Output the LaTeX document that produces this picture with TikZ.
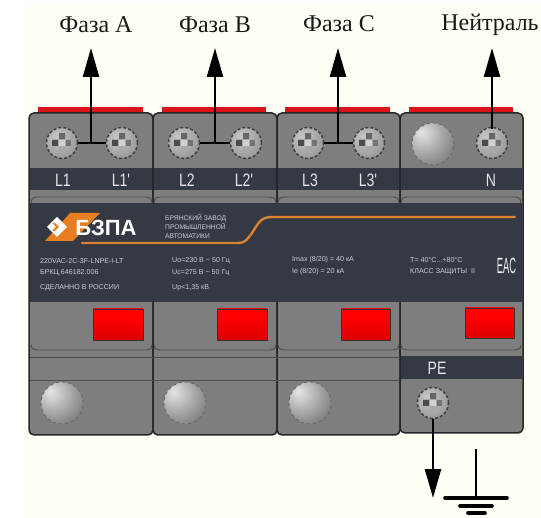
\documentclass[tikz,border=0pt]{standalone}
\usepackage{fontspec}
\setmainfont{Liberation Serif}
\newfontfamily\lsans{Liberation Sans}
\usetikzlibrary{arrows.meta,calc}
\definecolor{ivory}{HTML}{FFFFF5}
\definecolor{bodygrey}{HTML}{7E7E7E}
\definecolor{panel}{HTML}{353944}
\definecolor{edge}{HTML}{26262A}
\definecolor{orangeline}{HTML}{D9822F}
\definecolor{logoorange}{HTML}{E87E22}
\definecolor{capred}{HTML}{D81418}
\definecolor{small}{HTML}{CDCFD3}
\pgfdeclareradialshading{kball}{\pgfpoint{-14bp}{14bp}}{%
 color(0bp)=(white!90!black); color(20bp)=(white!68!black); color(45bp)=(white!42!black); color(68bp)=(white!28!black); color(100bp)=(white!28!black)}
\pgfdeclareradialshading{kscrew}{\pgfpoint{-10bp}{10bp}}{%
 color(0bp)=(white!78!black); color(30bp)=(white!62!black); color(60bp)=(white!40!black); color(100bp)=(white!30!black)}
\pgfdeclareverticalshading{kled}{100bp}{%
 color(0bp)=(black!60!red); color(6bp)=(black!50!red); color(22bp)=(red!85!black); color(60bp)=(red); color(100bp)=(red)}
\tikzset{
 x=1pt,y=-1pt,
 module/.style={draw=edge,line width=1.5pt,fill=bodygrey,rounded corners=5pt},
 strip/.style={fill=panel},
 seam/.style={draw=black!70,line width=0.9pt},
 capbar/.style={fill=capred},
 led/.style={draw=black!80,line width=0.8pt,shading=kled},
 ballnode/.style={circle,minimum size=42pt,inner sep=0pt,shading=kball,draw=black!60,dashed,line width=.8pt},
 screwnode/.style={circle,minimum size=31pt,inner sep=0pt,shading=kscrew,draw=black!75,densely dashed,line width=1.5pt},
 wire/.style={draw=black,line width=2.4pt},
 arrowwire/.style={draw=black,line width=2.4pt,-{Triangle[length=29pt,width=16pt]},shorten >=0pt},
 ground/.style={draw=black,line width=3.6pt,line cap=round},
 head/.style={font=\fontsize{24}{26}\selectfont,text=black!90,inner sep=0pt},
 term/.style={font=\lsans\fontsize{18}{18}\selectfont,text=white!90!black,inner sep=0pt},
 tiny/.style={font=\lsans\fontsize{7.1}{8}\selectfont,text=small,inner sep=0pt,anchor=west},
 tinybr/.style={font=\lsans\fontsize{6.7}{8}\selectfont,text=small,inner sep=0pt,anchor=west},
}
\newcommand{\kcross}[1]{%
 \fill[white!66!black] ($(#1)+(-3.5,-10)$) rectangle ($(#1)+(3.5,10)$);
 \fill[white!66!black] ($(#1)+(-10,-3.5)$) rectangle ($(#1)+(10,3.5)$);
 \fill[black!70] ($(#1)+(-10,-3)$) rectangle ($(#1)+(-4,3)$);
 \fill[black!60] ($(#1)+(-3,-10)$) rectangle ($(#1)+(3,-4)$);
 \fill[white!82!black] ($(#1)+(-3,-3)$) rectangle ($(#1)+(3,3)$);
 \fill[white!45!black] ($(#1)+(4,-3)$) rectangle ($(#1)+(9,3)$);
}
\newcommand{\tallterm}[1]{\scalebox{0.78}[1]{#1}}
\begin{document}
\begin{tikzpicture}
\useasboundingbox (0,0) rectangle (541,518);
\fill[white] (0,0) rectangle (541,518);
\fill[ivory] (23,5) rectangle (541,518);

% red caps
\foreach \a/\b in {38/143,162/266,285/390,409/513}
  \fill[capbar] (\a,107) rectangle (\b,114);

% modules
\draw[module] (29,113) rectangle (153,435);
\draw[module] (153,113) rectangle (277,435);
\draw[module] (277,113) rectangle (400,435);
\draw[module] (400,113) rectangle (523,433);

% terminal strip
\fill[strip] (30,168) rectangle (522,190);
% upper seams
\foreach \a/\b in {30/153,153/277,277/400,400/522}
  \draw[seam] (\a+1,203) .. controls (\a+2,198) .. (\a+7,197) -- (\b-7,197) .. controls (\b-2,198) .. (\b-1,203);
% front panel
\fill[panel] (30,203) rectangle (522,302);
% module divisions on strip
\foreach \a in {153,277,400} \draw[edge,line width=1.2pt] (\a,168) -- (\a,190);

% lower seams
\foreach \a/\b in {30/153,153/277,277/400,400/522}
  \draw[seam] (\a+1,345) .. controls (\a+2,349) .. (\a+7,350) -- (\b-7,350) .. controls (\b-2,349) .. (\b-1,345);
\draw[seam] (30,357) -- (400,357);
\draw[seam] (30,380) -- (400,380);
\fill[strip] (401,356) rectangle (522,379);

% indicators
\draw[led] (93,309) rectangle (143,340);
\draw[led] (217,309) rectangle (267,340);
\draw[led] (341,309) rectangle (390,340);
\draw[led] (465,308) rectangle (514,338);

% balls
\node[ballnode] (b1) at (62,403) {};
\node[ballnode] (b2) at (185,403) {};
\node[ballnode] (b3) at (310,403) {};
\node[ballnode] (b4) at (433,144) {};

% screws
\node[screwnode] (s1) at (62,143) {};
\node[screwnode] (s1p) at (122,143) {};
\node[screwnode] (s2) at (184,143) {};
\node[screwnode] (s2p) at (246,143) {};
\node[screwnode] (s3) at (308,143) {};
\node[screwnode] (s3p) at (369,143) {};
\node[screwnode] (sn) at (492,143) {};
\node[screwnode] (spe) at (433,403) {};

% wires and arrows
\coordinate (ja) at (91,143);
\coordinate (jb) at (215,143);
\coordinate (jc) at (338,143);
\coordinate (jn) at (492,129);
\coordinate (ta) at (91,48);
\coordinate (tb) at (215,48);
\coordinate (tc) at (338,48);
\coordinate (tn) at (492,48);
\coordinate (tpe) at (433,498);
\draw[wire] (s1) -- (s1p);
\draw[wire] (s2) -- (s2p);
\draw[wire] (s3) -- (s3p);
\draw[arrowwire] (ja) -- (ta);
\draw[arrowwire] (jb) -- (tb);
\draw[arrowwire] (jc) -- (tc);
\draw[arrowwire] (jn) -- (tn);
\draw[arrowwire] (spe) -- (tpe);
\foreach \n in {s1,s1p,s2,s2p,s3,s3p,sn,spe} \kcross{\n};

% ground symbol
\coordinate (g0) at (476,449);
\coordinate (g1) at (476,498);
\draw[draw=black,line width=2.8pt] (g0) -- (g1);
\draw[ground] (445,498) -- (507,498);
\draw[ground] (460,506) -- (492,506);
\draw[ground] (468,513) -- (485,513);

% headings
\node[head] (ha) at (96,25) {Фаза A};
\node[head] (hb) at (215,25) {Фаза B};
\node[head] (hc) at (339,24) {Фаза C};
\node[head] (hn) at (490,25) {Нейтраль};

% terminal labels
\node[term] (l1) at (63,180) {\tallterm{L1}};
\node[term] (l1p) at (121,180) {\tallterm{L1'}};
\node[term] (l2) at (187,180) {\tallterm{L2}};
\node[term] (l2p) at (244,180) {\tallterm{L2'}};
\node[term] (l3) at (310,180) {\tallterm{L3}};
\node[term] (l3p) at (368,180) {\tallterm{L3'}};
\node[term] (ln) at (491,180) {\tallterm{N}};
\node[term] (lpe) at (437,368) {\tallterm{PE}};

% logo
\fill[logoorange] (70,213) -- (100,213) -- (73,241) -- (45,241) -- cycle;
\fill[white] (57,217) -- (67,227) -- (57,237) -- (47,227) -- cycle;
\fill[logoorange] (55,223) -- (59,227) -- (55,231) -- (52,231) -- (56,227) -- (52,223) -- cycle;
\node[font=\lsans\bfseries\fontsize{22}{22}\selectfont,text=white,inner sep=0pt] (logo) at (106,228) {БЗПА};
\draw[orangeline,line width=2.4pt,line cap=round,line join=round] (82,243) -- (238,243) .. controls (246,243) and (248,238) .. (252,233) .. controls (258,224) and (260,217) .. (272,217) -- (515,217);

\node[tinybr] (c1) at (165,218) {БРЯНСКИЙ ЗАВОД};
\node[tinybr] (c2) at (165,227) {ПРОМЫШЛЕННОЙ};
\node[tinybr] (c3) at (165,236) {АВТОМАТИКИ};

% panel text
\node[tiny] (t1) at (40,261) {220VAC-2C-3F-LNPE-I-LT};
\node[tiny] (t2) at (40,272.5) {БРКЦ.646182.006};
\node[tiny] (t3) at (40,288) {СДЕЛАННО В РОССИИ};
\node[tiny] (t4) at (172,261) {Uo=230 В \textasciitilde{} 50 Гц};
\node[tiny] (t5) at (172,272.5) {Uc=275 В \textasciitilde{} 50 Гц};
\node[tiny] (t6) at (172,288) {Up<1,35 кВ};
\node[tiny] (t7) at (292,260) {Imax (8/20) = 40 кА};
\node[tiny] (t8) at (292,272) {Ie (8/20) = 20 кА};
\node[tiny] (t9) at (410,260) {T= 40°C...+80°C};
\node[tiny] (t10) at (410,272) {КЛАСС ЗАЩИТЫ\ \ II};
\node[font=\lsans\fontsize{11}{11}\selectfont,text=white!95!black,inner sep=0pt] (eac) at (506.5,266) {\scalebox{0.85}[2]{ЕАС}};
\end{tikzpicture}
\end{document}
